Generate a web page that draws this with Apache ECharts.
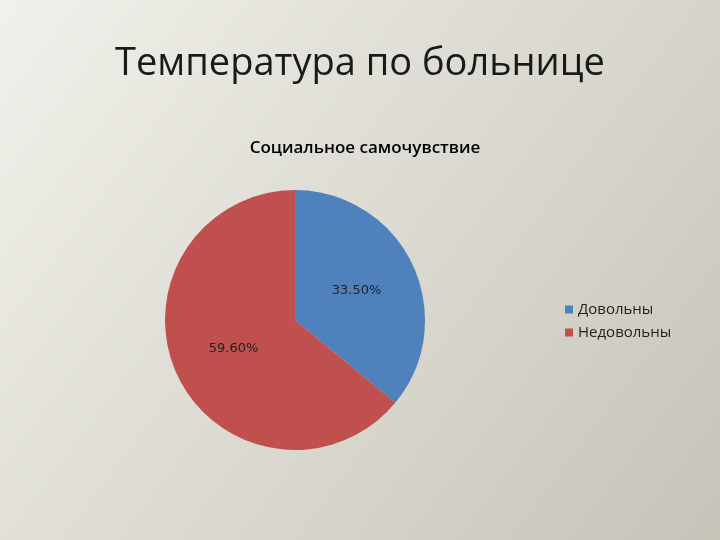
<!DOCTYPE html>
<html><head><meta charset="utf-8">
<script src="https://cdn.jsdelivr.net/npm/echarts@6/dist/echarts.min.js"></script>
<style>html,body{margin:0;padding:0}#c{width:720px;height:540px}</style>
</head><body><div id="c"></div>
<script>
const categories = ['Довольны', 'Недовольны'];
const values = [33.5, 59.6];
const colors = ['#4f81bd', '#c0504d'];
const chart = echarts.init(document.getElementById('c'));
chart.setOption({
  backgroundColor: new echarts.graphic.LinearGradient(0, 0, 1, 1, [
    {offset: 0, color: '#f1f0ea'}, {offset: 1, color: '#c6c4b9'}]),
  title: [
    {text: 'Температура по больнице', left: 'center', top: 40,
     textStyle: {fontFamily: 'Open Sans', fontSize: 38, fontWeight: 'normal', color: '#1a1a1a'}},
    {text: 'Социальное самочувствие', left: 360, textAlign: 'center', top: 135,
     textStyle: {fontFamily: 'Open Sans', fontSize: 17, fontWeight: 600, color: '#000'}}
  ],
  legend: {
    orient: 'vertical', left: 560, top: 297, itemGap: 8, itemWidth: 8, itemHeight: 8,
    icon: 'rect', data: categories,
    textStyle: {fontFamily: 'Open Sans', fontSize: 15, color: '#222'}
  },
  series: [{
    type: 'pie', center: [295, 320], radius: 130, startAngle: 90, clockwise: true,
    silent: true,
    data: categories.map((c, i) => ({name: c, value: values[i], itemStyle: {color: colors[i]}})),
    label: {position: 'inside', formatter: p => p.value.toFixed(2) + '%',
      fontFamily: 'DejaVu Sans', fontSize: 13, color: '#222'},
    labelLine: {show: false}
  }]
});
</script></body></html>
